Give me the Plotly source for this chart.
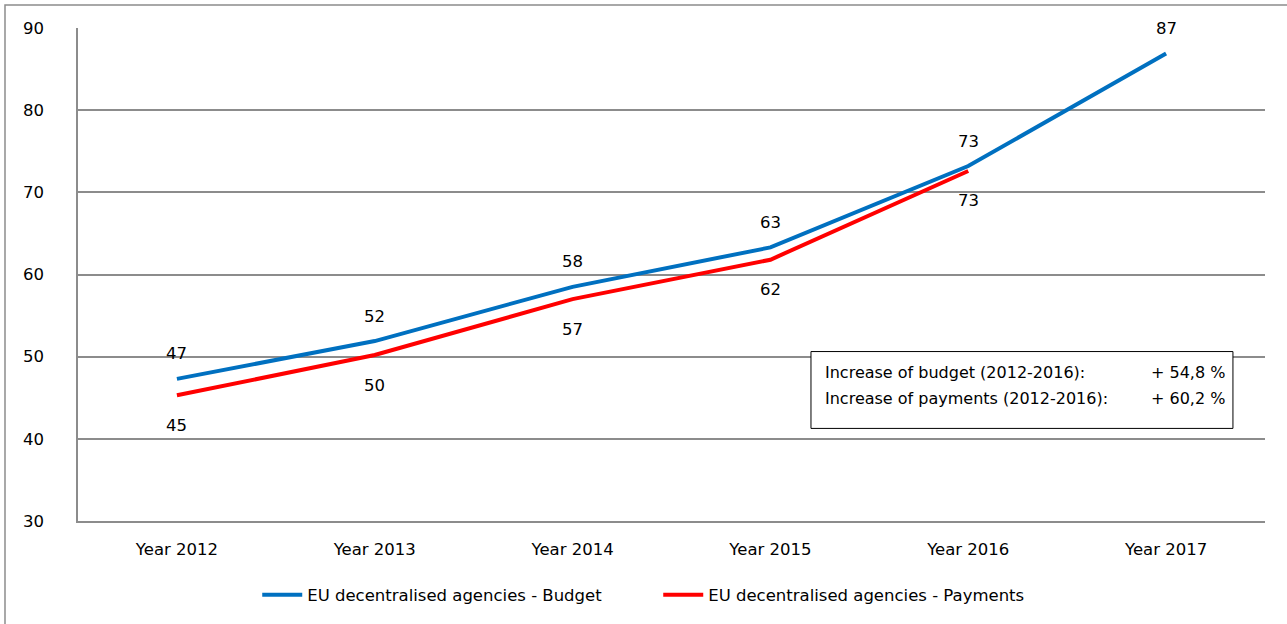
import plotly.graph_objects as go

# Category labels and series values (EUR million)
years = ["Year 2012", "Year 2013", "Year 2014", "Year 2015", "Year 2016", "Year 2017"]
budget = [47.3, 51.9, 58.5, 63.3, 73.2, 86.9]
payments = [45.3, 50.2, 57.0, 61.8, 72.6, None]

summary_labels = ["Increase of budget (2012-2016):", "Increase of payments (2012-2016):"]
summary_values = ["+ 54,8 %", "+ 60,2 %"]

BLUE = "#0070C0"
RED = "#FF0000"
GRID = "#8c8c8c"
FONT = "DejaVu Sans"
FS = 16.5

fig = go.Figure()
fig.add_trace(go.Scatter(
    x=years, y=budget, mode="lines", name="EU decentralised agencies - Budget",
    line=dict(color=BLUE, width=4),
))
fig.add_trace(go.Scatter(
    x=years, y=payments, mode="lines", name="EU decentralised agencies - Payments",
    line=dict(color=RED, width=4),
))

# Value labels: budget above the line, payments below
annotations = []
for x, v in zip(years, budget):
    annotations.append(dict(x=x, y=v, text=f"{v:.0f}", showarrow=False,
                            xanchor="center", yanchor="middle", yshift=25,
                            font=dict(family=FONT, size=FS, color="#000")))
for x, v in zip(years, payments):
    if v is None:
        continue
    annotations.append(dict(x=x, y=v, text=f"{v:.0f}", showarrow=False,
                            xanchor="center", yanchor="middle", yshift=-30,
                            font=dict(family=FONT, size=FS, color="#000")))

# Summary box text
for lbl, val, yp in zip(summary_labels, summary_values, [0.301, 0.248]):
    annotations.append(dict(x=0.628, y=yp, xref="paper", yref="paper", text=lbl,
                            showarrow=False, xanchor="left", yanchor="middle",
                            font=dict(family=FONT, size=16, color="#000")))
    annotations.append(dict(x=0.968, y=yp, xref="paper", yref="paper", text=val,
                            showarrow=False, xanchor="right", yanchor="middle",
                            font=dict(family=FONT, size=16, color="#000")))

shapes = [
    # summary box
    dict(type="rect", xref="paper", yref="paper", x0=0.6175, x1=0.973, y0=0.1878, y1=0.3437,
         line=dict(color="#000", width=1), fillcolor="white", layer="above"),
    # outer chart border
    dict(type="rect", xref="paper", yref="paper", x0=-0.0615, x1=1.03, y0=-0.23, y1=1.0466,
         line=dict(color="#8c8c8c", width=1.5), fillcolor="rgba(0,0,0,0)"),
]

fig.update_layout(
    width=1287, height=624,
    margin=dict(l=78, r=22, t=28, b=102),
    paper_bgcolor="white", plot_bgcolor="white",
    font=dict(family=FONT, size=FS, color="#000"),
    showlegend=True,
    legend=dict(orientation="h", x=0.151, xanchor="left", y=-0.148, yanchor="middle",
                font=dict(family=FONT, size=FS, color="#000"), itemwidth=40,
                entrywidth=346, entrywidthmode="pixels",
                bgcolor="rgba(0,0,0,0)"),
    annotations=annotations,
    shapes=shapes,
)
fig.update_xaxes(type="category", range=[-0.5, 5.5], showgrid=False, zeroline=False,
                 showline=True, linecolor=GRID, linewidth=1.5, ticks="",
                 tickfont=dict(family=FONT, size=FS), ticklabelstandoff=12)
fig.update_yaxes(range=[30, 90], dtick=10, showgrid=True, gridcolor=GRID, gridwidth=1.5,
                 zeroline=False, showline=True, linecolor=GRID, linewidth=1.5, ticks="",
                 tickfont=dict(family=FONT, size=FS), ticklabelstandoff=29)

fig.write_html("out.html")
